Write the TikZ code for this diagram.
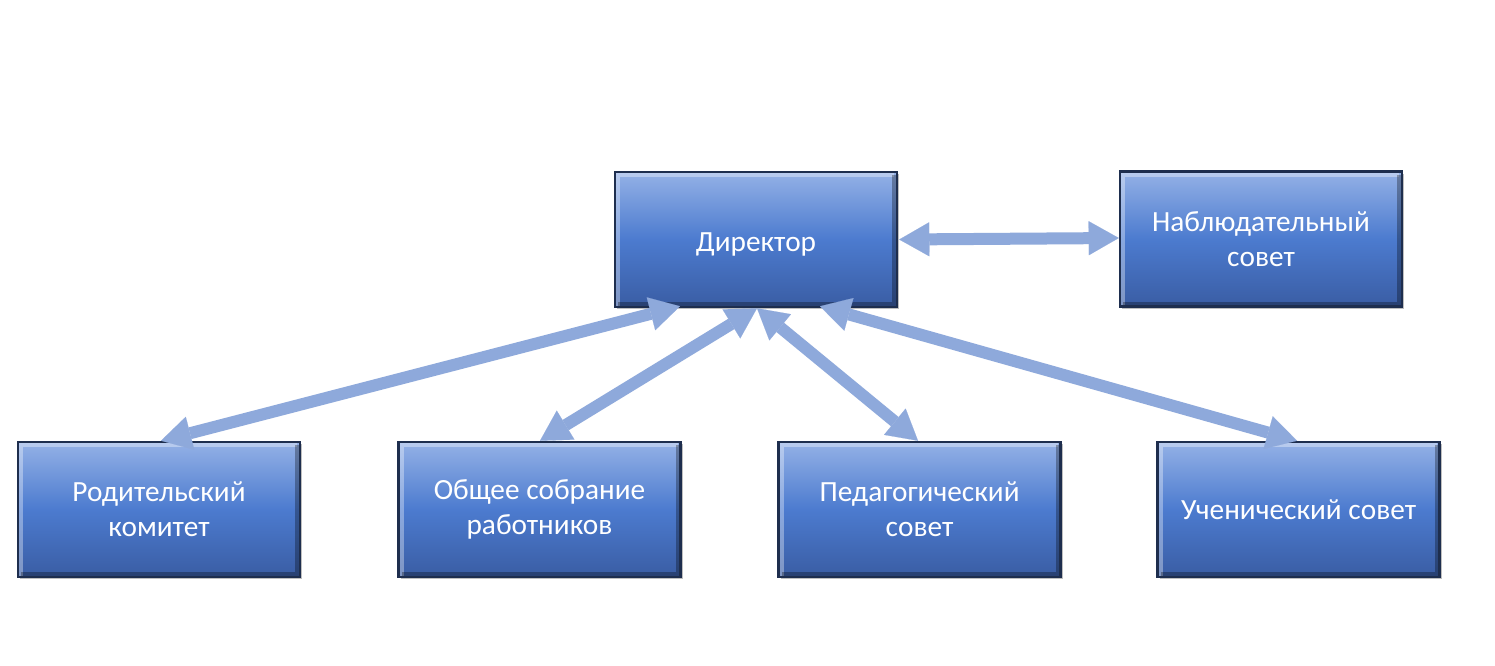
\documentclass[tikz,border=0pt]{standalone}
\usepackage{fontspec}
\setmainfont{Carlito}
\usetikzlibrary{arrows.meta,calc,shadows}
\definecolor{arrowc}{HTML}{8EA9DB}
\definecolor{boxtop}{HTML}{94B1E6}
\definecolor{boxmid}{HTML}{4C7BCF}
\definecolor{boxbot}{HTML}{3A5DA4}
\definecolor{boxline}{HTML}{1E2E4E}
\tikzset{
  orgbox/.style={rectangle, minimum width=282pt, minimum height=135pt, inner sep=0pt,
    top color=boxtop, bottom color=boxbot, middle color=boxmid,
    draw=boxline, line width=2.5pt,
    drop shadow={shadow xshift=2pt, shadow yshift=-2pt, opacity=0.25, fill=black},
    text=white, align=center, font=\fontsize{29.3}{35}\selectfont,
    path picture={
      \draw[white, opacity=0.35, line width=4pt]
        ([shift={(3pt,-3pt)}]path picture bounding box.south west) --
        ([shift={(3pt,-3pt)}]path picture bounding box.north west) --
        ([shift={(-3pt,-3pt)}]path picture bounding box.north east);
      \draw[black, opacity=0.3, line width=4pt]
        ([shift={(-3pt,-3pt)}]path picture bounding box.north east) --
        ([shift={(-3pt,3pt)}]path picture bounding box.south east) --
        ([shift={(3pt,3pt)}]path picture bounding box.south west);
    }},
  conn/.style={draw=arrowc, line width=12pt,
    {Triangle[length=30pt,width=34pt,line width=0.1pt]}-{Triangle[length=30pt,width=34pt,line width=0.1pt]}}
}
\begin{document}
\begin{tikzpicture}[x=1pt,y=-1pt]
\fill[white] (0,0) rectangle (1495,665);
\useasboundingbox (0,0) rectangle (1495,665);

\node[orgbox] (dir) at (756,239.5) {\rule{0pt}{28pt}Директор};
\node[orgbox] (nab) at (1261,239) {Наблюдательный\\совет};
\node[orgbox] (rod) at (159,509.5) {Родительский\\комитет};
\node[orgbox] (obs) at (539.5,509.5) {Общее собрание\\работников};
\node[orgbox] (ped) at (919.5,509.5) {Педагогический\\совет};
\node[orgbox] (uch) at (1298.5,509.5) {Ученический совет};

\draw[conn] ($(dir.east)+(1,0)$) -- ($(nab.west)+(0,-1)$);
\draw[conn] ($(dir.south)+(-76,-2)$) -- ($(rod.north)+(2,0)$);
\draw[conn] ($(dir.south)+(1,0)$) -- ($(obs.north)+(0.5,0)$);
\draw[conn] ($(dir.south)+(1,0)$) -- ($(ped.north)+(-1.5,0)$);
\draw[conn] ($(dir.south)+(64,-2)$) -- ($(uch.north)+(-1.5,0)$);
\end{tikzpicture}
\end{document}
